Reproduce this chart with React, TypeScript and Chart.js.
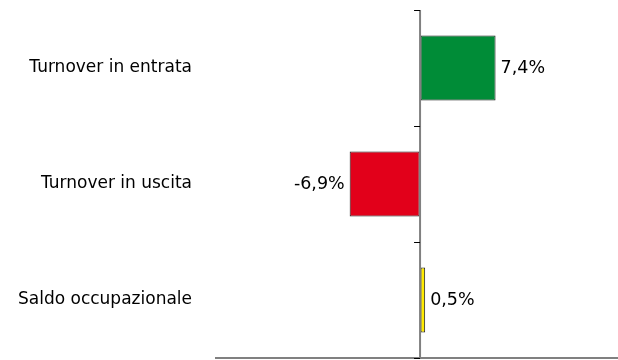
import React, { useEffect, useRef } from "react";
import { Chart, registerables } from "chart.js";

Chart.register(...registerables);

const categories = ["Turnover in entrata", "Turnover in uscita", "Saldo occupazionale"];
const values = [7.4, -6.9, 0.5];
const valueLabels = ["7,4%", "-6,9%", "0,5%"];
const barColors = ["#008C37", "#E2001A", "#FFEA00"];
const xMin = -20;
const xMax = 19.4;
const xStep = 5;

const FONT = "'DejaVu Sans', sans-serif";

const zeroAxisPlugin = {
  id: "zeroAxis",
  afterDatasetsDraw(chart: any) {
    const { ctx, chartArea, scales } = chart;
    const x0 = scales.x.getPixelForValue(0);
    const y = scales.y;
    ctx.save();
    ctx.strokeStyle = "#808080";
    ctx.lineWidth = 2;
    ctx.beginPath();
    ctx.moveTo(x0, chartArea.top);
    ctx.lineTo(x0, chartArea.bottom);
    ctx.stroke();
    ctx.strokeStyle = "#000";
    ctx.lineWidth = 1;
    for (let i = 0; i <= categories.length; i++) {
      const yy = Math.round(y.getPixelForValue(i - 0.5)) + 0.5;
      ctx.beginPath();
      ctx.moveTo(x0 - 6, yy);
      ctx.lineTo(x0, yy);
      ctx.stroke();
    }
    const meta = chart.getDatasetMeta(0);
    ctx.fillStyle = "#000";
    ctx.font = "17.5px " + FONT;
    ctx.textBaseline = "middle";
    meta.data.forEach((bar: any, i: number) => {
      const v = values[i];
      if (v >= 0) {
        ctx.textAlign = "left";
        ctx.fillText(valueLabels[i], bar.x + 5, bar.y);
      } else {
        ctx.textAlign = "right";
        ctx.fillText(valueLabels[i], bar.x - 5, bar.y);
      }
    });
    ctx.restore();
  },
};

export default function App() {
  const ref = useRef<HTMLCanvasElement>(null);
  useEffect(() => {
    if (!ref.current) return;
    const chart = new Chart(ref.current, {
      type: "bar",
      data: {
        labels: categories,
        datasets: [
          {
            data: values,
            backgroundColor: barColors,
            borderColor: "#1a1a1a",
            borderWidth: 1,
            borderSkipped: false,
            categoryPercentage: 1,
            barPercentage: 0.56,
          },
        ],
      },
      options: {
        indexAxis: "y",
        animation: false,
        responsive: false,
        maintainAspectRatio: false,
        layout: { padding: { top: 10, bottom: 1, left: 0, right: 0 } },
        plugins: { legend: { display: false }, tooltip: { enabled: false } },
        scales: {
          x: {
            min: xMin,
            max: xMax,
            ticks: { display: false, stepSize: xStep },
            grid: { display: true, drawOnChartArea: false, drawTicks: false },
            border: { display: true, color: "#808080", width: 2 },
            afterFit: (scale: any) => {
              scale.height = 1;
              scale.paddingLeft = 0;
              scale.paddingRight = 0;
            },
          },
          y: {
            ticks: {
              color: "#000",
              font: { family: FONT, size: 17 },
              padding: 24,
            },
            grid: { display: false, drawTicks: false },
            border: { display: false },
            afterFit: (scale: any) => {
              scale.width = 216;
              scale.paddingTop = 0;
              scale.paddingBottom = 0;
            },
          },
        },
      },
      plugins: [zeroAxisPlugin],
    });
    return () => chart.destroy();
  }, []);
  return (
    <div style={{ position: "fixed", left: 0, top: 0, width: 618, height: 360, background: "#fff" }}>
      <canvas ref={ref} width={618} height={360} />
    </div>
  );
}
